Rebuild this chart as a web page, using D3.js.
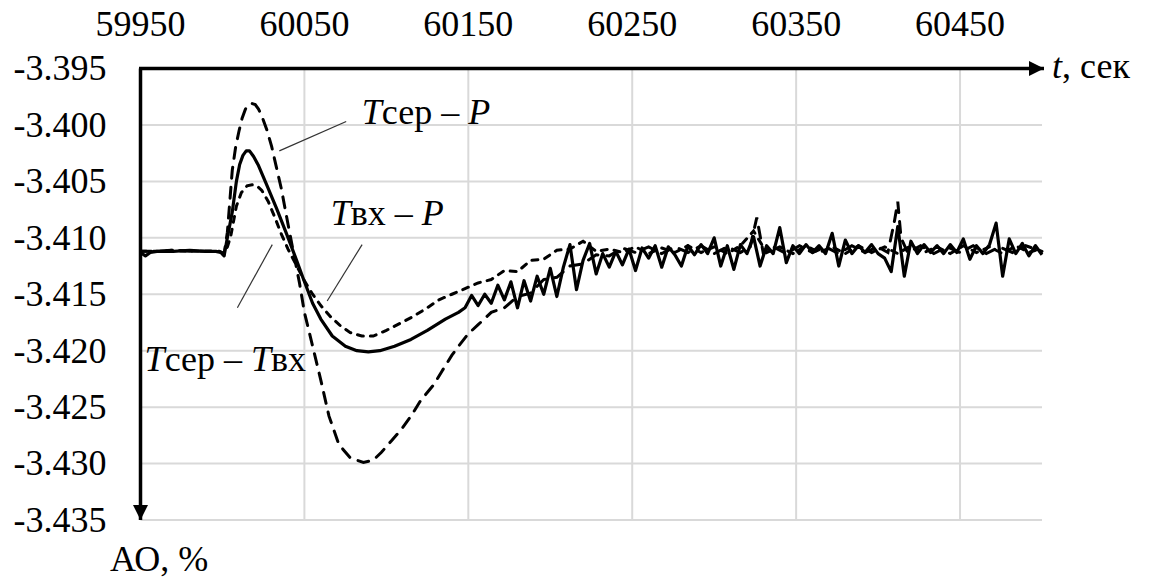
<!DOCTYPE html>
<html>
<head>
<meta charset="utf-8">
<script src="https://cdn.jsdelivr.net/npm/d3@7"></script>
</head>
<body style="margin:0">
<svg id="chart" width="1149" height="581"></svg>
<script>
// axis ticks
var xTicks = [59950, 60050, 60150, 60250, 60350, 60450];
var yTicks = [-3.395, -3.400, -3.405, -3.410, -3.415, -3.420, -3.425, -3.430, -3.435];

// Тсер – Твх (solid)
var tSolid = [59950, 59953, 59956, 59960, 59970, 59980, 59990, 59996, 59999, 60001,
  60003, 60006, 60008.5, 60010.5, 60012.5, 60014.5, 60016.5, 60019, 60022, 60027,
  60033, 60039, 60045, 60049, 60055, 60060, 60067, 60075, 60082, 60089,
  60096, 60105, 60115, 60125, 60136, 60144, 60148,
  60152, 60156, 60160, 60164, 60168, 60172, 60176, 60180, 60184, 60188,
  60192, 60196, 60200, 60204, 60208, 60212, 60216, 60220, 60224, 60228,
  60232, 60236, 60240, 60244, 60248, 60252, 60256, 60260, 60264, 60268,
  60272, 60276, 60280, 60284, 60288, 60292, 60296, 60300, 60304, 60308,
  60312, 60316, 60320, 60324, 60328, 60332, 60336, 60340, 60344, 60348,
  60352, 60356, 60360, 60364, 60368, 60372, 60376, 60380, 60384, 60388,
  60392, 60396, 60400, 60404, 60408, 60412, 60416, 60420, 60424, 60428,
  60432, 60436, 60440, 60444, 60448, 60452, 60456, 60460, 60464, 60468,
  60472, 60476, 60480, 60484, 60488, 60492, 60496, 60500];
var vSolid = [-3.4113, -3.4116, -3.4113, -3.4112, -3.4112, -3.4111, -3.4112, -3.4112, -3.4113, -3.4116,
  -3.4100, -3.4077, -3.4050, -3.4035, -3.4027, -3.4023, -3.4023, -3.4028, -3.4036, -3.4053,
  -3.4074, -3.4096, -3.4119, -3.4135, -3.4158, -3.4172, -3.4187, -3.4196, -3.4200, -3.4201,
  -3.4200, -3.4196, -3.4190, -3.4182, -3.4172, -3.4166, -3.4162,
  -3.4151, -3.4160, -3.4150, -3.4158, -3.4142, -3.4155, -3.4139, -3.4162, -3.4138, -3.4156,
  -3.4134, -3.4150, -3.4127, -3.4152, -3.4126, -3.4106, -3.4146, -3.4120, -3.4105, -3.4132,
  -3.4114, -3.4126, -3.4112, -3.4124, -3.4110, -3.4129, -3.4109, -3.4118, -3.4107, -3.4126,
  -3.4108, -3.4115, -3.4125, -3.4107, -3.4115, -3.4106, -3.4114, -3.4100, -3.4125, -3.4107,
  -3.4128, -3.4106, -3.4114, -3.4099, -3.4125, -3.4107, -3.4114, -3.4091, -3.4122, -3.4107,
  -3.4114, -3.4106, -3.4113, -3.4107, -3.4114, -3.4096, -3.4125, -3.4102, -3.4114, -3.4107,
  -3.4113, -3.4106, -3.4114, -3.4118, -3.4130, -3.4090, -3.4134, -3.4103, -3.4114, -3.4106,
  -3.4113, -3.4107, -3.4114, -3.4106, -3.4113, -3.4101, -3.4119, -3.4107, -3.4114, -3.4106,
  -3.4087, -3.4134, -3.4101, -3.4114, -3.4105, -3.4116, -3.4107, -3.4115];

// Твх – Р (short dashes)
var tInlet = [59950, 59960, 59970, 59980, 59990, 59998, 60001, 60003, 60005, 60008.5,
  60011.5, 60015, 60018, 60021, 60024, 60028, 60032, 60036, 60040, 60045,
  60050, 60055, 60060, 60066, 60072, 60078, 60085, 60092, 60100, 60108,
  60116, 60125, 60132, 60140, 60148,
  60156, 60164, 60172, 60180, 60188, 60196, 60204, 60212, 60220, 60228,
  60236, 60244, 60252, 60260, 60268, 60276, 60284, 60292, 60300, 60308,
  60316, 60324, 60332, 60340, 60348, 60356, 60364, 60372, 60380, 60388,
  60396, 60404, 60412, 60420, 60428, 60436, 60444, 60452, 60460, 60468,
  60476, 60484, 60492, 60500];
var vInlet = [-3.4112, -3.4112, -3.4111, -3.4112, -3.4112, -3.4112, -3.4114, -3.4108, -3.4099, -3.4072,
  -3.4060, -3.4054, -3.4053, -3.4054, -3.4058, -3.4068, -3.4082, -3.4097, -3.4110, -3.4124,
  -3.4138, -3.4150, -3.4160, -3.4170, -3.4178, -3.4184, -3.4187, -3.4187, -3.4182, -3.4176,
  -3.4170, -3.4162, -3.4155, -3.4150, -3.4145,
  -3.4140, -3.4137, -3.4129, -3.4130, -3.4120, -3.4119, -3.4111, -3.4110, -3.4103, -3.4112,
  -3.4110, -3.4113, -3.4108, -3.4114, -3.4109, -3.4113, -3.4107, -3.4113, -3.4108, -3.4114,
  -3.4107, -3.4094, -3.4113, -3.4108, -3.4114, -3.4107, -3.4113, -3.4108, -3.4114, -3.4107,
  -3.4113, -3.4108, -3.4114, -3.4107, -3.4113, -3.4108, -3.4114, -3.4107, -3.4113, -3.4108,
  -3.4114, -3.4107, -3.4113, -3.4109];

// Тсер – Р (long dashes)
var tMean = [59950, 59960, 59970, 59980, 59990, 59998, 60001, 60003, 60006, 60008,
  60010, 60012, 60014, 60016, 60018, 60020, 60022, 60024, 60027, 60030,
  60033, 60036, 60040, 60044, 60047, 60050, 60055, 60060, 60065, 60071,
  60078, 60086, 60092, 60097, 60103, 60109, 60115, 60121, 60129, 60134,
  60140, 60144, 60150,
  60156, 60164, 60172, 60180, 60188, 60196, 60204, 60212, 60220, 60228,
  60236, 60244, 60252, 60260, 60268, 60276, 60284, 60292, 60300, 60308,
  60316, 60322, 60326, 60330, 60336, 60344, 60352, 60360, 60368, 60376,
  60384, 60392, 60400, 60406, 60410, 60412, 60414, 60418, 60426, 60434,
  60442, 60450, 60458, 60466, 60474, 60482, 60490, 60500];
var vMean = [-3.4112, -3.4112, -3.4111, -3.4112, -3.4112, -3.4112, -3.4114, -3.4095, -3.4040, -3.4020,
  -3.4006, -3.3994, -3.3986, -3.3982, -3.3981, -3.3982, -3.3986, -3.3992, -3.4004, -3.4019,
  -3.4038, -3.4057, -3.4088, -3.4118, -3.4140, -3.4166, -3.4196, -3.4226, -3.4258, -3.4283,
  -3.4295, -3.4299, -3.4297, -3.4290, -3.4280, -3.4270, -3.4258, -3.4244, -3.4230, -3.4218,
  -3.4204, -3.4196, -3.4185,
  -3.4177, -3.4166, -3.4162, -3.4152, -3.4149, -3.4137, -3.4135, -3.4125, -3.4123, -3.4115,
  -3.4116, -3.4109, -3.4113, -3.4108, -3.4114, -3.4108, -3.4113, -3.4107, -3.4114, -3.4108,
  -3.4113, -3.4108, -3.4082, -3.4114, -3.4108, -3.4114, -3.4107, -3.4113, -3.4108, -3.4114,
  -3.4107, -3.4113, -3.4108, -3.4113, -3.4085, -3.4068, -3.4100, -3.4113, -3.4107, -3.4114,
  -3.4108, -3.4113, -3.4107, -3.4114, -3.4108, -3.4113, -3.4107, -3.4112];

// curve labels, anchored in data units (time, AO)
var labelText = [
  [["Т", true], ["сер – ", false], ["Р", true]],
  [["Т", true], ["вх – ", false], ["Р", true]],
  [["Т", true], ["сер – ", false], ["Т", true], ["вх", false]]
];
var labelAt = [[60085, -3.3999], [60066, -3.4089], [59952.5, -3.4218]];
var leaderLines = [
  [60034.7, -3.4023, 60075.5, -3.3997],
  [60063.9, -3.4156, 60085.2, -3.4106],
  [60009.1, -3.4162, 60030.4, -3.4106]
];

var svg = d3.select("#chart");
var x = d3.scaleLinear().domain([59950, 60500]).range([140.5, 1042]);
var y = d3.scaleLinear().domain([-3.395, -3.435]).range([68.5, 520]);

function addText(sel, str) {
  return sel.append("text")
      .style("font-family", "'Liberation Serif'")
      .style("font-size", "36px")
      .text(str);
}

var defs = svg.append("defs");
defs.append("marker")
    .attr("id", "arrow")
    .attr("viewBox", "0 0 10 10")
    .attr("refX", 10).attr("refY", 5)
    .attr("markerWidth", 16).attr("markerHeight", 15)
    .attr("markerUnits", "userSpaceOnUse")
    .attr("orient", "auto")
  .append("path")
    .attr("d", "M0,0L10,5L0,10Z")
    .attr("fill", "#000");

// grid
var grid = svg.append("g").attr("stroke", "#d9d9d9").attr("stroke-width", 2);
grid.selectAll("line.h")
  .data(yTicks.slice(1))
  .enter().append("line")
    .attr("class", "h")
    .attr("x1", x(59950)).attr("x2", x(60500))
    .attr("y1", function(d) { return y(d); })
    .attr("y2", function(d) { return y(d); });
grid.selectAll("line.v")
  .data(xTicks.slice(1))
  .enter().append("line")
    .attr("class", "v")
    .attr("x1", function(d) { return x(d); })
    .attr("x2", function(d) { return x(d); })
    .attr("y1", y(-3.395)).attr("y2", y(-3.435));

// tick labels (plain hyphen like the original)
var fmtY = d3.format(".3f");
xTicks.forEach(function(d) {
  addText(svg, String(d))
      .attr("x", x(d))
      .attr("y", y(-3.395) - 33)
      .attr("text-anchor", "middle");
});
yTicks.forEach(function(d) {
  addText(svg, fmtY(d).replace("\u2212", "-"))
      .attr("x", x(59950) - 34)
      .attr("y", y(d))
      .attr("dy", "0.33em")
      .attr("text-anchor", "end");
});

// series
var line = d3.line()
    .x(function(d) { return x(d[0]); })
    .y(function(d) { return y(d[1]); });

svg.append("path")
    .datum(d3.zip(tMean, vMean))
    .attr("fill", "none")
    .attr("stroke", "#000")
    .attr("stroke-width", 3)
    .attr("stroke-linecap", "round")
    .attr("stroke-dasharray", "11,9")
    .attr("d", line);

svg.append("path")
    .datum(d3.zip(tInlet, vInlet))
    .attr("fill", "none")
    .attr("stroke", "#000")
    .attr("stroke-width", 3)
    .attr("stroke-linecap", "round")
    .attr("stroke-dasharray", "6,7")
    .attr("d", line);

svg.append("path")
    .datum(d3.zip(tSolid, vSolid))
    .attr("fill", "none")
    .attr("stroke", "#000")
    .attr("stroke-width", 3.2)
    .attr("stroke-linejoin", "round")
    .attr("d", line);

// axis lines with arrows
svg.append("line")
    .attr("x1", x(59950) - 1.5).attr("x2", x(60500) + 2)
    .attr("y1", y(-3.395)).attr("y2", y(-3.395))
    .attr("stroke", "#000").attr("stroke-width", 3.5)
    .attr("marker-end", "url(#arrow)");
svg.append("line")
    .attr("x1", x(59950)).attr("x2", x(59950))
    .attr("y1", y(-3.395)).attr("y2", y(-3.435))
    .attr("stroke", "#000").attr("stroke-width", 3.5)
    .attr("marker-end", "url(#arrow)");

// axis titles
var tTitle = addText(svg, null)
    .attr("x", x(60500) + 10).attr("y", y(-3.395) + 9);
tTitle.append("tspan").style("font-style", "italic").text("t");
tTitle.append("tspan").text(", сек");

addText(svg, "АО, %")
    .attr("x", 110).attr("y", 571);

// leaders and curve labels
svg.selectAll("line.leader")
  .data(leaderLines)
  .enter().append("line")
    .attr("class", "leader")
    .attr("x1", function(d) { return x(d[0]); })
    .attr("y1", function(d) { return y(d[1]); })
    .attr("x2", function(d) { return x(d[2]); })
    .attr("y2", function(d) { return y(d[3]); })
    .attr("stroke", "#333")
    .attr("stroke-width", 1.2);

labelText.forEach(function(parts, i) {
  var t = addText(svg, null)
      .attr("x", x(labelAt[i][0]))
      .attr("y", y(labelAt[i][1]));
  parts.forEach(function(p) {
    t.append("tspan")
        .style("font-style", p[1] ? "italic" : "normal")
        .text(p[0]);
  });
});
</script>
</body>
</html>
